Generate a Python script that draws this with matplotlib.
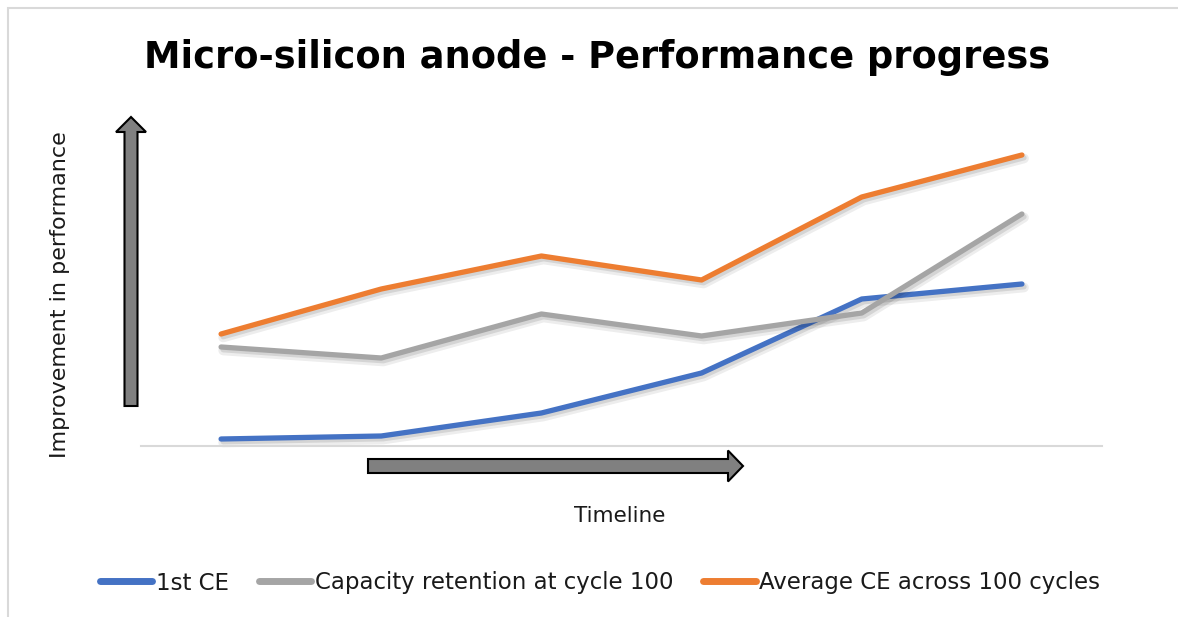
import matplotlib
matplotlib.use("Agg")
import matplotlib.pyplot as plt
import matplotlib.patheffects as pe
import matplotlib.transforms as mtransforms
from matplotlib.patches import FancyArrow, Rectangle

# ---- data (relative performance, arbitrary units) ----
stages = [1, 2, 3, 4, 5, 6]
first_ce = [7, 10, 33, 73, 147, 162]
capacity_retention = [99, 88, 132, 110, 133, 232]
average_ce = [112, 157, 190, 166, 249, 291]
series_names = ["1st CE", "Capacity retention at cycle 100", "Average CE across 100 cycles"]
colors = ["#4472C4", "#A5A5A5", "#ED7D31"]

W, H = 1178, 617
fig = plt.figure(figsize=(W / 100, H / 100), dpi=100)
fig.patch.set_facecolor("white")

def fx(px):
    return px / W

def fy(py):
    return 1 - py / H

# outer chart border (top and left visible)
fig.add_artist(Rectangle((fx(8), -0.1), 1.2, fy(8) + 0.1, transform=fig.transFigure,
                         fill=False, edgecolor="#D9D9D9", linewidth=1.5))

ax_left, ax_right, ax_bottom, ax_top = 141, 1102, 446, 106
ax = fig.add_axes([fx(ax_left), fy(ax_bottom), fx(ax_right - ax_left), (ax_bottom - ax_top) / H])
ax.set_xlim(0.5, 6.5)
ax.set_ylim(0, ax_bottom - ax_top)
for s in ["top", "right", "left"]:
    ax.spines[s].set_visible(False)
ax.spines["bottom"].set_color("#D9D9D9")
ax.spines["bottom"].set_linewidth(1.5)
ax.set_xticks([])
ax.set_yticks([])
ax.patch.set_alpha(0)

shadow = [pe.SimpleLineShadow(offset=(1.5, -2.5), shadow_color="black", alpha=0.07, rho=1, linewidth=7),
          pe.SimpleLineShadow(offset=(1.5, -2), shadow_color="black", alpha=0.10, rho=1),
          pe.Normal()]
for vals, name, c in zip([first_ce, capacity_retention, average_ce], series_names, colors):
    ax.plot(stages, vals, color=c, linewidth=3.8, solid_capstyle="round",
            solid_joinstyle="round", label=name, path_effects=shadow, clip_on=False)

font = "DejaVu Sans"
fig.text(fx(597), fy(58), "Micro-silicon anode - Performance progress", ha="center", va="center",
         fontsize=26.5, fontweight="bold", family=font, color="black")
fig.text(fx(60), fy(295), "Improvement in performance", ha="center", va="center", rotation=90,
         fontsize=16, family=font, color="#1a1a1a")
fig.text(fx(620), fy(516), "Timeline", ha="center", va="center",
         fontsize=15.5, family=font, color="#1a1a1a")

def add_arrow(x0, y0, x1, y1, width, hw, hl):
    tr = mtransforms.Affine2D().scale(1, -1).translate(0, H)
    a = FancyArrow(x0, y0, x1 - x0, y1 - y0, width=width, head_width=hw, head_length=hl,
                   length_includes_head=True, facecolor="#808080", edgecolor="black",
                   linewidth=1.5, transform=tr)
    fig.add_artist(a)

add_arrow(131, 406, 131, 117, 13, 30, 15)
add_arrow(368, 466, 743, 466, 14, 31, 15)

leg = fig.legend(loc="center", bbox_to_anchor=(fx(600), fy(583)), ncol=3, frameon=False,
                 handlelength=2.3, handletextpad=0.15, columnspacing=1.3,
                 prop={"family": font, "size": 16.5})
for line in leg.get_lines():
    line.set_linewidth(5)
    line.set_solid_capstyle("round")
    line.set_path_effects([])
for t in leg.get_texts():
    t.set_color("#1a1a1a")

fig.savefig("out.png", dpi=100, facecolor="white")
